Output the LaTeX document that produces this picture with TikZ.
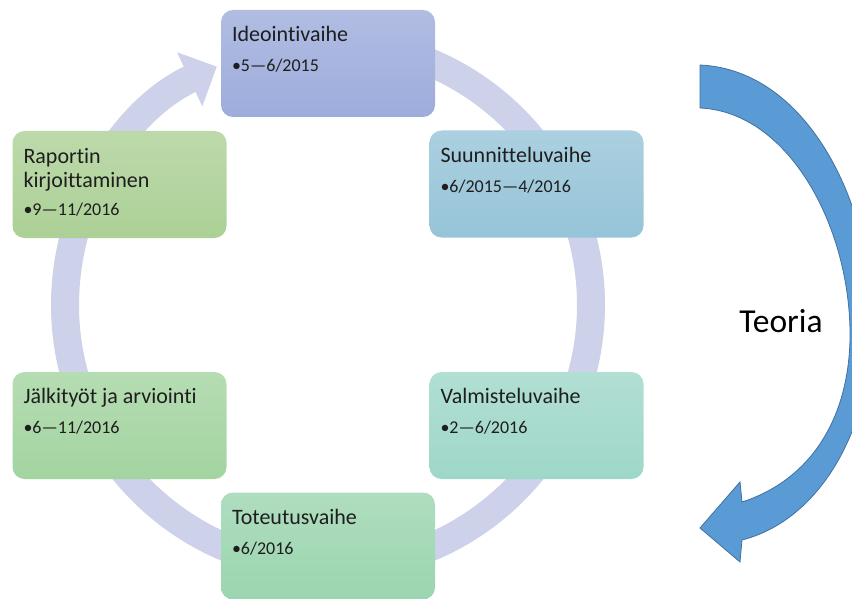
\documentclass[tikz,border=0pt]{standalone}
\usepackage{fontspec}
\setmainfont{Carlito}[Ligatures=NoCommon]
\usepackage{xcolor}
\usepackage{tikz}
\usetikzlibrary{arrows.meta}
\definecolor{ringlav}{RGB}{205,209,234}
\definecolor{ideablue}{RGB}{157,172,219}
\definecolor{planblue}{RGB}{150,196,216}
\definecolor{prepteal}{RGB}{158,215,200}
\definecolor{actgreen}{RGB}{155,213,175}
\definecolor{evalgreen}{RGB}{163,212,160}
\definecolor{reportgreen}{RGB}{172,208,150}
\definecolor{teoriablue}{RGB}{91,155,213}
\definecolor{teoriaedge}{RGB}{65,113,160}
\definecolor{textdark}{RGB}{30,30,30}

\begin{document}
\begin{tikzpicture}[
    x=1pt, y=-1pt,
    phase/.style={rectangle, rounded corners=12pt, minimum width=214pt,
        minimum height=107pt, inner sep=0pt},
    phasetitle/.style={anchor=base west, inner sep=0pt, align=left,
        text=textdark, font=\fontsize{22}{24}\selectfont},
    phasedate/.style={anchor=base west, inner sep=0pt,
        text=textdark, font=\fontsize{18}{20}\selectfont},
    ring/.style={ringlav, line width=28pt, -{Triangle[width=58pt, length=30pt]}},
    teoria/.style={anchor=base, inner sep=0pt, text=black,
        font=\fontsize{33.5}{36}\selectfont}
]
    \useasboundingbox (0,0) rectangle (852,599);

    % Cycle ring behind the phases
    \coordinate (hub) at (328,305);
    \draw[ring] ([shift={(90:263pt)}]hub)
        arc[start angle=90, end angle=-245, radius=263pt];

    % Ideointivaihe
    \node[phase, top color=ideablue!80!white, bottom color=ideablue] (idea) at (328,63.5) {};
    \node[phasetitle] (ideaT) at ([shift={(11,32)}]idea.north west) {Ideointivaihe};
    \node[phasedate] (ideaD) at ([shift={(11,62)}]idea.north west) {•5—6/2015};

    % Suunnitteluvaihe
    \node[phase, top color=planblue!80!white, bottom color=planblue] (plan) at (536.5,184) {};
    \node[phasetitle] (planT) at ([shift={(11,32)}]plan.north west) {Suunnitteluvaihe};
    \node[phasedate] (planD) at ([shift={(11,62)}]plan.north west) {•6/2015—4/2016};

    % Valmisteluvaihe
    \node[phase, top color=prepteal!80!white, bottom color=prepteal] (prep) at (536.5,425.5) {};
    \node[phasetitle] (prepT) at ([shift={(11,32)}]prep.north west) {Valmisteluvaihe};
    \node[phasedate] (prepD) at ([shift={(11,62)}]prep.north west) {•2—6/2016};

    % Toteutusvaihe
    \node[phase, top color=actgreen!80!white, bottom color=actgreen] (act) at (328,546) {};
    \node[phasetitle] (actT) at ([shift={(11,32)}]act.north west) {Toteutusvaihe};
    \node[phasedate] (actD) at ([shift={(11,62)}]act.north west) {•6/2016};

    % Jälkityöt ja arviointi
    \node[phase, top color=evalgreen!80!white, bottom color=evalgreen] (eval) at (119.5,425.5) {};
    \node[phasetitle] (evalT) at ([shift={(11,32)}]eval.north west) {Jälkityöt ja arviointi};
    \node[phasedate] (evalD) at ([shift={(11,62)}]eval.north west) {•6—11/2016};

    % Raportin kirjoittaminen (base is the last line)
    \node[phase, top color=reportgreen!80!white, bottom color=reportgreen] (report) at (119.5,184.5) {};
    \node[phasetitle] (reportT) at ([shift={(11,57)}]report.north west) {Raportin\\kirjoittaminen};
    \node[phasedate] (reportD) at ([shift={(11,85)}]report.north west) {•9—11/2016};

    % Theory arrow on the right
    \filldraw[fill=teoriablue, draw=teoriaedge, line width=0.8pt]
        (700,65) .. controls (810,70) and (875,210) .. (872,330)
        .. controls (870,430) and (820,520) .. (742,540)
        -- (740,562) -- (700,528) -- (740,482) -- (742,502)
        .. controls (810,480) and (848,420) .. (850,340)
        .. controls (852,230) and (790,112) .. (700,108) -- cycle;
    \node[teoria] (theory) at (781,332) {Teoria};

\end{tikzpicture}
\end{document}
